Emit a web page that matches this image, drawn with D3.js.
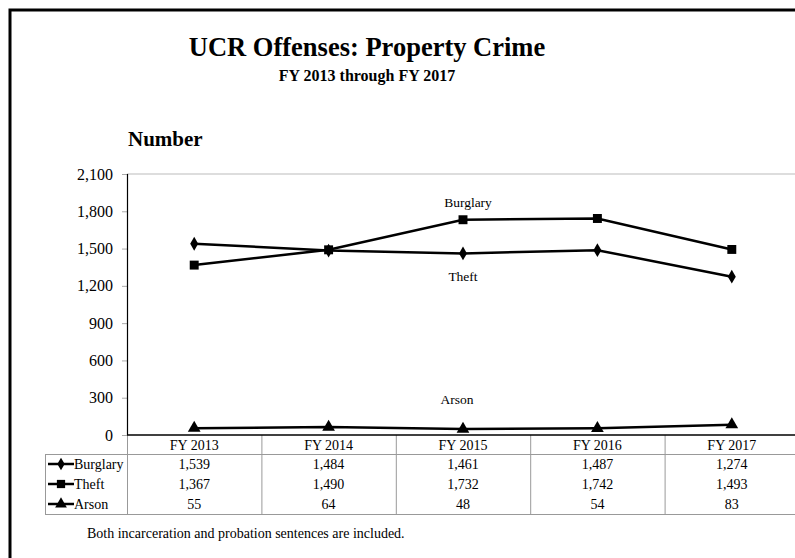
<!DOCTYPE html>
<html><head><meta charset="utf-8">
<script src="https://cdn.jsdelivr.net/npm/d3@7"></script>
<style>html,body{margin:0;padding:0;background:#fff}svg{display:block}</style>
</head><body>
<script>
const categories = ["FY 2013","FY 2014","FY 2015","FY 2016","FY 2017"];
const seriesNames = ["Burglary","Theft","Arson"];
const burglary = [1539,1484,1461,1487,1274];
const theft = [1367,1490,1732,1742,1493];
const arson = [55,64,48,54,83];
const yTicks = [0,300,600,900,1200,1500,1800,2100];
const title = "UCR Offenses: Property Crime";
const subtitle = "FY 2013 through FY 2017";
const yTitle = "Number";
const footnote = "Both incarceration and probation sentences are included.";

const series = [
  {name: seriesNames[0], values: burglary, symbol: d3.symbolDiamond, size: 55},
  {name: seriesNames[1], values: theft, symbol: d3.symbolSquare, size: 80},
  {name: seriesNames[2], values: arson, symbol: d3.symbolTriangle, size: 70}
];

const W = 795, H = 558;
const FONT = "'Liberation Serif','Times New Roman',serif";
const svg = d3.select("body").append("svg").attr("width", W).attr("height", H)
  .style("font-family", FONT);

// outer border
svg.append("rect").attr("x", 10).attr("y", 10).attr("width", 800).attr("height", 600)
  .attr("fill", "none").attr("stroke", "#000").attr("stroke-width", 3);

svg.append("text").attr("x", 367).attr("y", 56).attr("text-anchor", "middle")
  .attr("font-size", 26.5).attr("font-weight", "bold").text(title);
svg.append("text").attr("x", 367).attr("y", 81).attr("text-anchor", "middle")
  .attr("font-size", 16).attr("font-weight", "bold").text(subtitle);
svg.append("text").attr("x", 128).attr("y", 146)
  .attr("font-size", 21).attr("font-weight", "bold").text(yTitle);

const pLeft = 127, pRight = 799, pTop = 174, pBottom = 435;
const x = d3.scaleBand().domain(categories).range([pLeft, pRight]).padding(0);
const y = d3.scaleLinear().domain([0, 2100]).range([pBottom, pTop]);
const cx = c => x(c) + x.bandwidth() / 2;

// top gridline
svg.append("line").attr("x1", pLeft).attr("x2", W).attr("y1", y(2100)).attr("y2", y(2100))
  .attr("stroke", "#bbb").attr("stroke-width", 1);

// y axis
const yAxis = d3.axisLeft(y).tickValues(yTicks).tickSize(5).tickPadding(9)
  .tickFormat(d3.format(","));
const ga = svg.append("g").attr("transform", `translate(${pLeft},0)`).call(yAxis);
ga.select(".domain").remove();
ga.selectAll(".tick line").attr("stroke", "#aaa");
ga.selectAll(".tick text").attr("font-family", FONT).attr("font-size", 16).attr("fill", "#000");
svg.append("line").attr("x1", pLeft + 0.5).attr("x2", pLeft + 0.5).attr("y1", pTop).attr("y2", pBottom)
  .attr("stroke", "#000").attr("stroke-width", 1.2);

// data table
const rowH = 20, headBottom = 454;
const tg = svg.append("g");
const gray = "#999";
categories.forEach(c => {
  tg.append("line").attr("x1", x(c) + 0.5).attr("x2", x(c) + 0.5)
    .attr("y1", pBottom).attr("y2", headBottom + rowH * 3).attr("stroke", gray);
});
tg.append("line").attr("x1", 45.5).attr("x2", 45.5).attr("y1", headBottom).attr("y2", headBottom + rowH * 3).attr("stroke", gray);
tg.append("line").attr("x1", 45).attr("x2", W).attr("y1", headBottom + 0.5).attr("y2", headBottom + 0.5).attr("stroke", gray);
tg.append("line").attr("x1", 45).attr("x2", W).attr("y1", headBottom + rowH * 3 + 0.5).attr("y2", headBottom + rowH * 3 + 0.5).attr("stroke", gray);
categories.forEach(c => {
  tg.append("text").attr("x", cx(c)).attr("y", 450).attr("text-anchor", "middle")
    .attr("font-size", 14).text(c);
});
const fmt = d3.format(",");
series.forEach((s, r) => {
  const ry = headBottom + rowH * r + 15;
  const my = headBottom + rowH * r + 10;
  tg.append("line").attr("x1", 48).attr("x2", 74).attr("y1", my).attr("y2", my)
    .attr("stroke", "#000").attr("stroke-width", 2.5);
  tg.append("path").attr("d", d3.symbol().type(s.symbol).size(s.size * 0.85)())
    .attr("transform", `translate(61,${my})`).attr("fill", "#000");
  tg.append("text").attr("x", 74).attr("y", ry).attr("font-size", 14).text(s.name);
  s.values.forEach((v, i) => {
    tg.append("text").attr("x", cx(categories[i])).attr("y", ry).attr("text-anchor", "middle")
      .attr("font-size", 14).text(fmt(v));
  });
});

// x baseline
svg.append("line").attr("x1", pLeft).attr("x2", W).attr("y1", pBottom).attr("y2", pBottom)
  .attr("stroke", "#000").attr("stroke-width", 1.5);

// lines
const line = d3.line().x((d, i) => cx(categories[i])).y(d => y(d));
series.forEach(s => {
  svg.append("path").attr("d", line(s.values)).attr("fill", "none")
    .attr("stroke", "#000").attr("stroke-width", 2.5);
  svg.selectAll(null).data(s.values).enter().append("path")
    .attr("d", d3.symbol().type(s.symbol).size(s.size)())
    .attr("transform", (d, i) => `translate(${cx(categories[i])},${y(d)})`)
    .attr("fill", "#000");
});

// series labels (as placed in the reference)
svg.append("text").attr("x", 468).attr("y", 207).attr("text-anchor", "middle").attr("font-size", 13.5).text(seriesNames[0]);
svg.append("text").attr("x", 463).attr("y", 281).attr("text-anchor", "middle").attr("font-size", 13.5).text(seriesNames[1]);
svg.append("text").attr("x", 457).attr("y", 404).attr("text-anchor", "middle").attr("font-size", 13.5).text(seriesNames[2]);

svg.append("text").attr("x", 87).attr("y", 538).attr("font-size", 14).text(footnote);
</script>
</body></html>
